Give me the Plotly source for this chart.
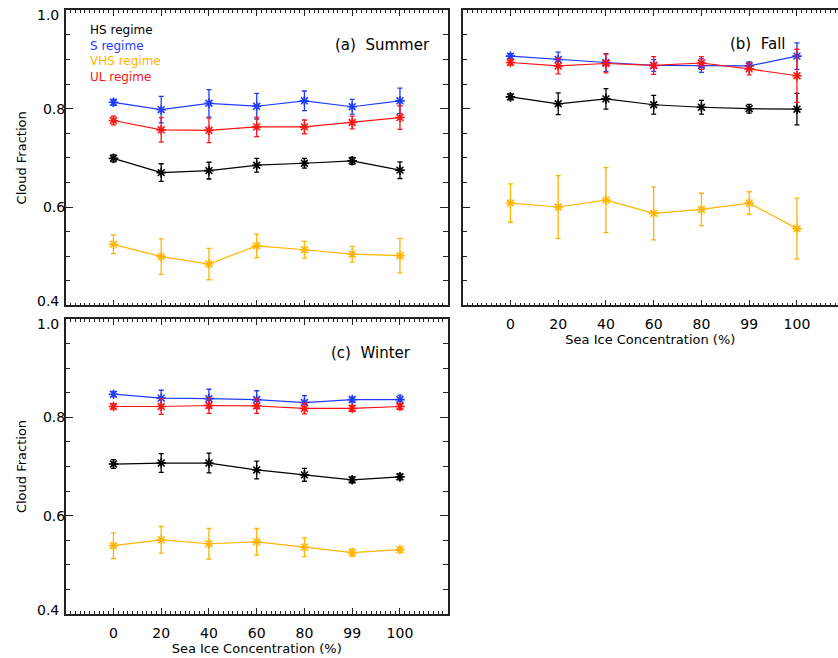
import plotly.graph_objects as go

# Sea-ice concentration bins (%) and their positions along the x axis
ice_labels = ["0", "20", "40", "60", "80", "99", "100"]
ice_pos = [0, 1, 2, 3, 4, 5, 6]

regimes = ["HS regime", "S regime", "VHS regime", "UL regime"]
colors = ["#000000", "#1f3cff", "#ffb400", "#ff1414"]

# Summer: mean cloud fraction and error bar half-width per regime
summer_hs = [0.699, 0.670, 0.674, 0.685, 0.689, 0.694, 0.675]
summer_hs_err = [0.007, 0.018, 0.017, 0.014, 0.010, 0.007, 0.017]
summer_s = [0.813, 0.798, 0.811, 0.805, 0.816, 0.804, 0.816]
summer_s_err = [0.006, 0.027, 0.028, 0.026, 0.020, 0.015, 0.026]
summer_vhs = [0.524, 0.499, 0.484, 0.521, 0.513, 0.504, 0.501]
summer_vhs_err = [0.019, 0.036, 0.032, 0.024, 0.017, 0.016, 0.035]
summer_ul = [0.776, 0.757, 0.756, 0.763, 0.763, 0.772, 0.782]
summer_ul_err = [0.009, 0.025, 0.025, 0.020, 0.014, 0.013, 0.024]

# Fall
fall_hs = [0.824, 0.810, 0.820, 0.808, 0.803, 0.800, 0.799]
fall_hs_err = [0.006, 0.022, 0.021, 0.019, 0.014, 0.009, 0.032]
fall_s = [0.907, 0.900, 0.894, 0.888, 0.888, 0.887, 0.907]
fall_s_err = [0.005, 0.015, 0.018, 0.012, 0.014, 0.008, 0.027]
fall_vhs = [0.608, 0.600, 0.614, 0.587, 0.595, 0.608, 0.556]
fall_vhs_err = [0.039, 0.064, 0.066, 0.054, 0.033, 0.023, 0.062]
fall_ul = [0.894, 0.887, 0.892, 0.888, 0.893, 0.881, 0.867]
fall_ul_err = [0.005, 0.016, 0.019, 0.018, 0.013, 0.012, 0.054]

# Winter
winter_hs = [0.705, 0.707, 0.707, 0.693, 0.683, 0.673, 0.679]
winter_hs_err = [0.009, 0.019, 0.020, 0.018, 0.013, 0.006, 0.006]
winter_s = [0.847, 0.839, 0.838, 0.836, 0.830, 0.836, 0.836]
winter_s_err = [0.005, 0.016, 0.019, 0.018, 0.014, 0.005, 0.009]
winter_vhs = [0.539, 0.551, 0.543, 0.547, 0.536, 0.525, 0.531]
winter_vhs_err = [0.026, 0.027, 0.031, 0.027, 0.019, 0.007, 0.005]
winter_ul = [0.822, 0.822, 0.824, 0.823, 0.818, 0.818, 0.822]
winter_ul_err = [0.005, 0.016, 0.016, 0.015, 0.011, 0.006, 0.006]

# y-axis tick values; the end labels are placed separately, nudged inward
y_ticks = [0.4, 0.6, 0.8, 1.0]
y_tick_text = ["", "0.6", "0.8", ""]
y_end_labels = ["1.0", "0.4"]

panels = [
    ("x", "y", [summer_hs, summer_s, summer_vhs, summer_ul],
     [summer_hs_err, summer_s_err, summer_vhs_err, summer_ul_err]),
    ("x2", "y2", [fall_hs, fall_s, fall_vhs, fall_ul],
     [fall_hs_err, fall_s_err, fall_vhs_err, fall_ul_err]),
    ("x3", "y3", [winter_hs, winter_s, winter_vhs, winter_ul],
     [winter_hs_err, winter_s_err, winter_vhs_err, winter_ul_err]),
]

FONT = "DejaVu Sans"
W, H = 838, 658

fig = go.Figure()
for xa, ya, vals, errs in panels:
    for name, col, v, e in zip(regimes, colors, vals, errs):
        fig.add_trace(go.Scatter(
            x=ice_pos, y=v, xaxis=xa, yaxis=ya, name=name,
            mode="lines+markers", showlegend=False,
            line=dict(color=col, width=1.2),
            marker=dict(symbol="asterisk-open", size=8,
                        line=dict(color=col, width=1.6)),
            error_y=dict(type="data", array=e, visible=True,
                         color=col, thickness=1.3, width=2.5),
        ))

# pixel geometry of the panels
ax_left, ax_right = 65.7, 447.7
bx_left, bx_right = 462.7, 838.0
top_row = (10.4, 305.3)
bot_row = (318.9, 614.1)


def px(x):
    return x / W


def py(y):
    return 1 - y / H


axis_line = dict(showline=True, linecolor="#222222", linewidth=1.5,
                 showgrid=False, zeroline=False, ticks="inside",
                 tickcolor="#222222", tickwidth=1.2, automargin=False)

tick_font = dict(family=FONT, size=14, color="#000000")
title_font = dict(family=FONT, size=13, color="#000000")


def xaxis_cfg(domain, rng, anchor, labels):
    cfg = dict(axis_line, domain=domain, range=rng, anchor=anchor,
               mirror="allticks", tickmode="array", tickvals=ice_pos,
               ticktext=ice_labels, ticklen=6,
               minor=dict(tickmode="linear", tick0=0, dtick=0.1,
                          ticks="inside", ticklen=3, tickcolor="#222222",
                          tickwidth=1, showgrid=False),
               showticklabels=labels, tickfont=tick_font)
    if labels:
        cfg["title"] = dict(text="Sea Ice Concentration (%)",
                            font=title_font, standoff=0)
        cfg["ticklabelstandoff"] = 5
    return cfg


def yaxis_cfg(domain, anchor, labels, mirror):
    cfg = dict(axis_line, domain=domain, range=[0.4, 1.0], anchor=anchor,
               mirror=mirror, tickmode="array", tickvals=y_ticks,
               ticktext=y_tick_text, ticklen=8,
               minor=dict(tickmode="linear", tick0=0.4, dtick=0.05,
                          ticks="inside", ticklen=5, tickcolor="#222222",
                          tickwidth=1, showgrid=False),
               showticklabels=labels, tickfont=tick_font)
    if labels:
        cfg["title"] = dict(text="Cloud Fraction", font=title_font,
                            standoff=13)
        cfg["ticklabelstandoff"] = -4
    return cfg


top_dom = [py(top_row[1]), py(top_row[0])]
bot_dom = [py(bot_row[1]), py(bot_row[0])]
a_dom = [px(ax_left), px(ax_right)]
b_dom = [px(bx_left), 1.0]

# fall panel is cut off at the right edge of the page
b_scale = (ax_right - ax_left) / 8.0
b_max = -1 + (bx_right - bx_left) / b_scale

fig.update_layout(
    width=W, height=H,
    margin=dict(l=0, r=0, t=0, b=0, autoexpand=False),
    paper_bgcolor="white", plot_bgcolor="white",
    font=dict(family=FONT, size=13, color="#000000"),
    xaxis=xaxis_cfg(a_dom, [-1, 7], "y", False),
    yaxis=yaxis_cfg(top_dom, "x", True, "allticks"),
    xaxis2=xaxis_cfg(b_dom, [-1, b_max], "y2", True),
    yaxis2=yaxis_cfg(top_dom, "x2", False, False),
    xaxis3=xaxis_cfg(a_dom, [-1, 7], "y3", True),
    yaxis3=yaxis_cfg(bot_dom, "x3", True, "allticks"),
    # right-hand tick stubs of the fall panel at the page edge
    yaxis4=dict(overlaying="y2", anchor="free", position=1.0, side="right",
                range=[0.4, 1.0], showline=False, showgrid=False,
                zeroline=False, ticks="inside", tickmode="array",
                tickvals=[0.6, 0.8], ticklen=5, tickcolor="#222222",
                tickwidth=1.2, showticklabels=False, automargin=False),
)

# end labels of the y axes, kept inside the panel height
for top_px, bot_px in (top_row, bot_row):
    for txt, yy in zip(y_end_labels, (top_px + 5.0, bot_px - 4.0)):
        fig.add_annotation(text=txt, xref="paper", yref="paper",
                           x=px(ax_left - 4.5), y=py(yy), xanchor="right",
                           yanchor="middle", showarrow=False,
                           font=tick_font)

annots = [
    dict(text="(a)  Summer", xref="x domain", yref="y domain",
         x=0.958, y=0.883, xanchor="right", yanchor="middle"),
    dict(text="(b)  Fall", xref="x2 domain", yref="y2 domain",
         x=0.867, y=0.886, xanchor="right", yanchor="middle"),
    dict(text="(c)  Winter", xref="x3 domain", yref="y3 domain",
         x=0.909, y=0.8845, xanchor="right", yanchor="middle"),
]
for a in annots:
    a.update(showarrow=False, font=dict(family=FONT, size=15, color="#000000"))
    fig.add_annotation(**a)

# regime labels in the summer panel, one coloured line each
legend_text = "<br>".join(
    f"<span style='color:{c}'>{n}</span>" for n, c in zip(regimes, colors))
fig.add_annotation(text=legend_text, xref="paper", yref="paper",
                   x=px(89.3), y=py(53.0), xanchor="left", yanchor="middle",
                   align="left", showarrow=False, borderpad=0,
                   font=dict(family=FONT, size=12, color="#000000"))

fig.write_html("out.html")
